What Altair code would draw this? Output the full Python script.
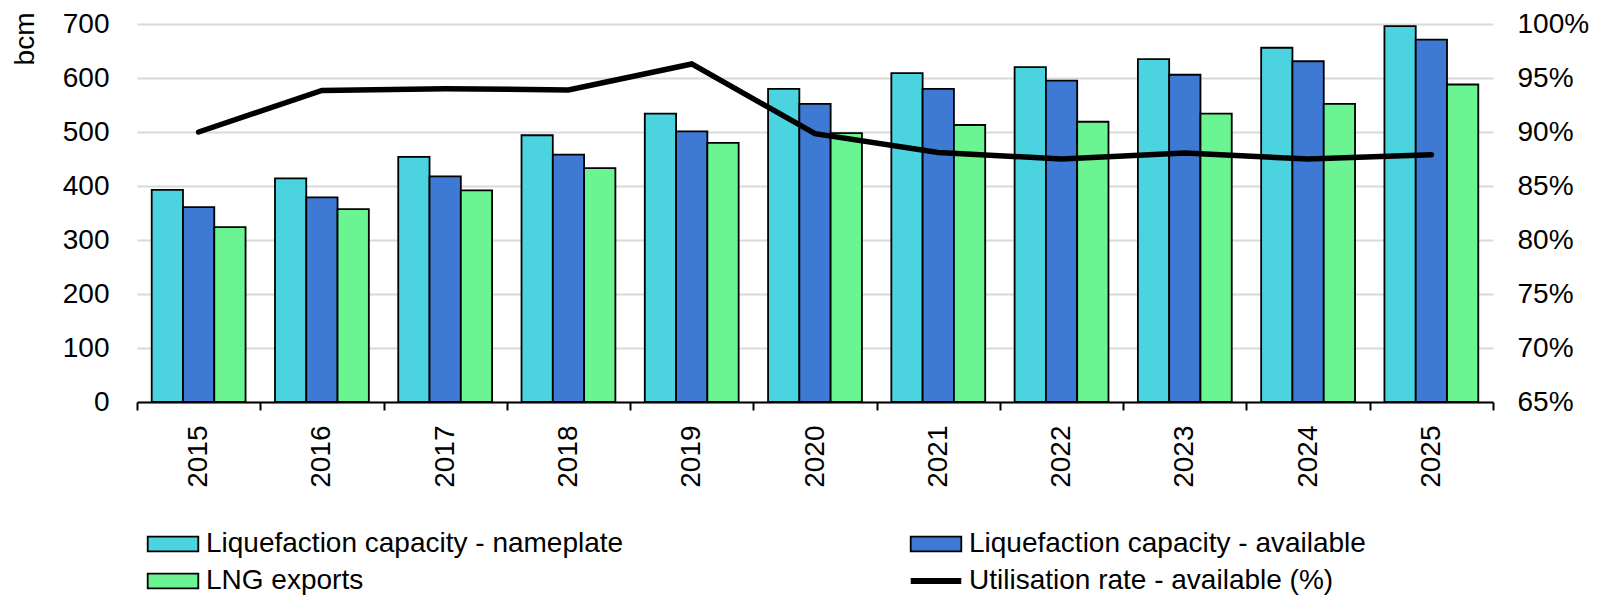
import altair as alt
import pandas as pd

years = [str(y) for y in range(2015, 2026)]
nameplate = [393, 414, 454, 494, 534, 580, 609, 620, 635, 656, 696]
available = [361, 379, 418, 458, 501, 552, 580, 595, 606, 631, 671]
exports = [324, 357, 392, 433, 480, 498, 513, 519, 534, 552, 588]
utilisation = [90.0, 93.85, 94.0, 93.9, 96.3, 89.85, 88.1, 87.5, 88.05, 87.5, 87.9]

S = ["Liquefaction capacity - nameplate", "Liquefaction capacity - available",
     "LNG exports", "Utilisation rate - available (%)"]
colors = {S[0]: "#4BD3E0", S[1]: "#3E7AD3", S[2]: "#6AF592", S[3]: "#000000"}
# legend is laid out column by column: col 1 = S0, S2 ; col 2 = S1, S3
legend_order = [S[0], S[2], S[1], S[3]]

bars_df = pd.DataFrame({
    "year": years * 3,
    "series": [S[0]] * 11 + [S[1]] * 11 + [S[2]] * 11,
    "value": nameplate + available + exports,
})
line_df = pd.DataFrame({"year": years, "series": S[3], "rate": utilisation})

FONT = "Liberation Sans"
FS = 28
LINE_NAME = S[3]
RECT = "M-1,-0.29H1V0.29H-1Z"

legend = alt.Legend(
    title=None, orient="none", legendX=22, legendY=506, columns=2,
    columnPadding=274, rowPadding=9, labelFontSize=FS, labelFont=FONT,
    labelColor="black", labelLimit=900, labelOffset=19, symbolSize=2560,
    padding=0,
    symbolType=alt.ExprRef(expr=f"datum.value === '{LINE_NAME}' ? 'stroke' : '{RECT}'"),
    symbolStrokeWidth=alt.ExprRef(expr=f"datum.value === '{LINE_NAME}' ? 6 : 1.8"),
    symbolStrokeColor="black",
    symbolOpacity=1,
)

color = alt.Color("series:N",
                  scale=alt.Scale(domain=legend_order, range=[colors[s] for s in legend_order]),
                  legend=legend)

x = alt.X("year:N", scale=alt.Scale(paddingInner=0, paddingOuter=0),
          axis=alt.Axis(title=None, labelAngle=-90, tickBand="extent",
                        domainColor="black", domainWidth=2, tickColor="black",
                        tickWidth=2, tickSize=8, labelPadding=15, labelFontSize=FS,
                        labelFont=FONT, labelColor="black", grid=False))

bars = alt.Chart(bars_df).mark_bar(stroke="black", strokeWidth=1.8).encode(
    x=x,
    xOffset=alt.XOffset("series:N", scale=alt.Scale(domain=S[:3], paddingInner=0, paddingOuter=0.47)),
    y=alt.Y("value:Q", scale=alt.Scale(domain=[0, 700], nice=False),
            axis=alt.Axis(values=list(range(0, 701, 100)), title="bcm",
                          titleFontSize=FS, titleFont=FONT, titleFontWeight="normal",
                          titleColor="black", titleAngle=-90, titleX=-104, titleY=-12,
                          titleAlign="right", titleBaseline="alphabetic",
                          domain=False, ticks=False, tickSize=0, labelPadding=28,
                          labelFontSize=FS, labelFont=FONT, labelColor="black",
                          grid=True, gridColor="#d9d9d9", gridWidth=2)),
    color=color,
)

line = alt.Chart(line_df).mark_line(strokeWidth=5.5, strokeCap="round", color="black").encode(
    x=x,
    y=alt.Y("rate:Q", scale=alt.Scale(domain=[65, 100], nice=False),
            axis=alt.Axis(orient="right", values=list(range(65, 101, 5)),
                          labelExpr="datum.value + '%'", title=None, grid=False,
                          domain=False, ticks=False, tickSize=0, labelPadding=24,
                          labelFontSize=FS, labelFont=FONT, labelColor="black")),
)

chart = alt.layer(bars, line).resolve_scale(y="independent").properties(
    width=1356, height=378,
    padding={"left": 129, "top": 16, "right": 98, "bottom": 193},
    autosize=alt.AutoSizeParams(type="none"),
).configure_view(stroke=None)

chart.save("out.html", embed_options={"renderer": "svg", "actions": False})
